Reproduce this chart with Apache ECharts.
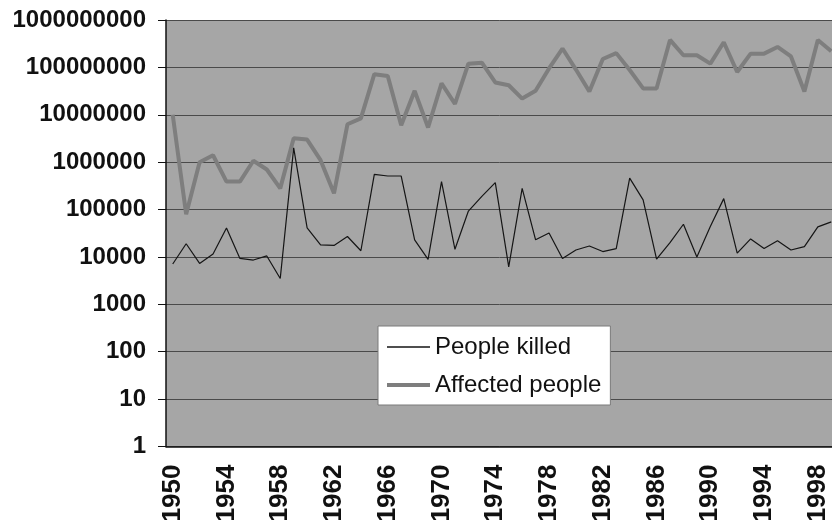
<!DOCTYPE html>
<html>
<head>
<meta charset="utf-8">
<script src="https://cdn.jsdelivr.net/npm/echarts@6/dist/echarts.min.js"></script>
<style>
  html, body { margin: 0; padding: 0; background: #fff; }
  #chart { width: 832px; height: 520px; }
</style>
</head>
<body>
<div id="chart"></div>
<script>
const years = [
  '1950', '1951', '1952', '1953', '1954', '1955', '1956', '1957', '1958', '1959',
  '1960', '1961', '1962', '1963', '1964', '1965', '1966', '1967', '1968', '1969',
  '1970', '1971', '1972', '1973', '1974', '1975', '1976', '1977', '1978', '1979',
  '1980', '1981', '1982', '1983', '1984', '1985', '1986', '1987', '1988', '1989',
  '1990', '1991', '1992', '1993', '1994', '1995', '1996', '1997', '1998', '1999'
]

const peopleKilled = [
  7100, 19000, 7300, 11500, 41000, 9300, 8600, 10500, 3500, 2000000,
  41000, 18000, 17500, 27000, 13500, 550000, 510000, 510000, 23000, 8900,
  390000, 14500, 93000, 190000, 370000, 6200, 280000, 23000, 32000, 9300,
  14000, 17000, 13000, 15000, 460000, 160000, 9000, 20000, 49000, 10000,
  44000, 170000, 12000, 24000, 15000, 22000, 14000, 16500, 43000, 55000
]

const affectedPeople = [
  10000000, 80000, 1000000, 1400000, 390000, 390000, 1070000, 700000, 280000, 3200000,
  3000000, 1100000, 220000, 6300000, 8400000, 72000000, 66000000, 6000000, 32000000, 5400000,
  46000000, 17000000, 120000000, 126000000, 48000000, 42000000, 22000000, 32000000, 95000000, 250000000,
  90000000, 31000000, 150000000, 200000000, 88000000, 36000000, 36000000, 380000000, 180000000, 180000000,
  120000000, 340000000, 80000000, 195000000, 195000000, 270000000, 170000000, 31000000, 380000000, 220000000
]

const fontFamily = "'Liberation Sans', Arial, sans-serif"
const killedColor = '#151515'
const affectedColor = '#7e7e7e'

const chart = echarts.init(document.getElementById('chart'))

chart.setOption({
  animation: false,
  backgroundColor: '#fff',
  grid: {
    left: 166,
    top: 20,
    width: 672,
    height: 426.5,
    backgroundColor: '#a6a6a6',
    show: true,
    borderWidth: 0,
    outerBoundsMode: 'none'
  },
  legend: {
    orient: 'vertical',
    left: 378,
    top: 326,
    backgroundColor: '#fff',
    borderColor: '#7a7a7a',
    borderWidth: 1,
    borderRadius: 0,
    padding: [9, 9, 8, 7],
    itemWidth: 43,
    itemHeight: 14,
    itemGap: 14,
    itemStyle: { opacity: 0 },
    textStyle: { fontSize: 24, color: '#111', fontFamily },
    data: [
      { name: 'People killed', lineStyle: { color: killedColor, width: 1.5 } },
      { name: 'Affected people', lineStyle: { color: affectedColor, width: 4 } }
    ]
  },
  xAxis: {
    type: 'category',
    data: years,
    boundaryGap: true,
    axisLine: { show: true, lineStyle: { color: '#111', width: 1.5 } },
    axisTick: { show: false },
    splitLine: { show: false },
    axisLabel: {
      interval: 3,
      rotate: 90,
      margin: 18,
      fontSize: 26,
      fontWeight: 'bold',
      color: '#111',
      fontFamily
    }
  },
  yAxis: {
    type: 'log',
    logBase: 10,
    min: 1,
    max: 1000000000,
    axisLine: { show: true, lineStyle: { color: '#111', width: 1.5 } },
    axisTick: { show: true, inside: false, length: 8, lineStyle: { color: '#111' } },
    splitLine: { show: true, lineStyle: { color: '#4a4a4a', width: 1 } },
    axisLabel: {
      margin: 20,
      fontSize: 24,
      fontWeight: 'bold',
      color: '#111',
      fontFamily,
      formatter: (value) => `${Math.round(value)}`
    }
  },
  series: [
    {
      name: 'People killed',
      type: 'line',
      data: peopleKilled,
      symbol: 'none',
      z: 3,
      lineStyle: { color: killedColor, width: 1.2 },
      itemStyle: { color: killedColor }
    },
    {
      name: 'Affected people',
      type: 'line',
      data: affectedPeople,
      symbol: 'none',
      z: 2,
      lineStyle: { color: affectedColor, width: 4 },
      itemStyle: { color: affectedColor }
    }
  ]
})
</script>
</body>
</html>
